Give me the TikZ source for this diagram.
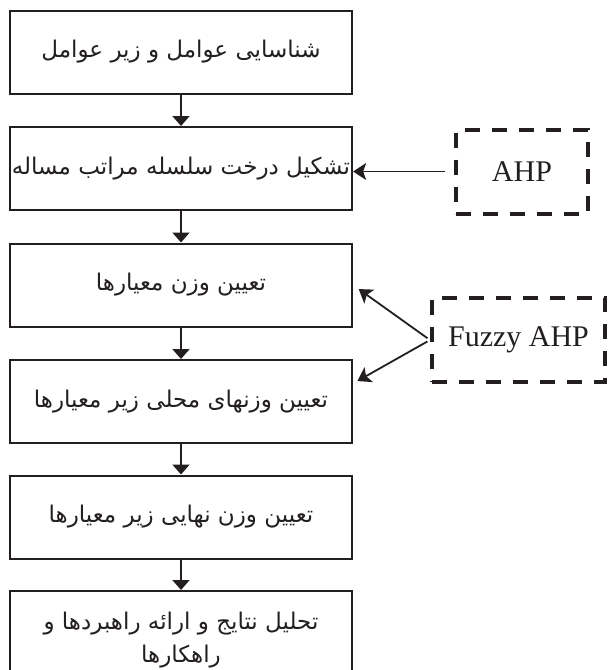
\documentclass[tikz,border=0pt]{standalone}
\usepackage{fontspec}
\setmainfont{Liberation Serif}
\newfontfamily\persianFont[Script=Arabic]{DejaVu Sans}
\TeXXeTstate=1
\usetikzlibrary{arrows.meta, positioning}
\definecolor{inkBlack}{HTML}{231F20}
\newcommand{\fa}[1]{{\persianFont\beginR #1\endR}}
\tikzset{
    % Flow boxes
    stepBox/.style={rectangle, draw=inkBlack, line width=2pt, minimum width=342pt, minimum height=83pt,
        inner sep=2pt, align=center, text=inkBlack, font=\persianFont\fontsize{23}{33}\selectfont},
    % Method boxes
    methodBox/.style={rectangle, draw=inkBlack, line width=4pt, dash pattern=on 15pt off 12pt,
        minimum height=84pt, inner sep=0pt, text=inkBlack, font=\fontsize{30}{36}\selectfont},
    % Arrows
    arrowDown/.style={-{Triangle[width=17pt,length=10pt]}, line width=2pt, draw=inkBlack},
    arrowSide/.style={-{Stealth[width=17pt,length=13pt,inset=3pt]}, line width=1.8pt, draw=inkBlack}
}
\begin{document}
\begin{tikzpicture}[x=1pt, y=-1pt]
    \useasboundingbox (0,0) rectangle (608,670);

    % Steps
    \node[stepBox] (s1) at (181,52)    {\fa{شناسایی عوامل و زیر عوامل}};
    \node[stepBox] (s2) at (181,168.5) {\fa{تشکیل درخت سلسله مراتب مساله}};
    \node[stepBox] (s3) at (181,285)   {\fa{تعیین وزن معیارها}};
    \node[stepBox] (s4) at (181,401.5) {\fa{تعیین وزنهای محلی زیر معیارها}};
    \node[stepBox] (s5) at (181,517)   {\fa{تعیین وزن نهایی زیر معیارها}};
    \node[stepBox, minimum height=99pt] (s6) at (181,640.5) {\fa{تحلیل نتایج و ارائه راهبردها و}\\\fa{راهکارها}};
    \foreach \a/\b in {s1/s2, s2/s3, s3/s4, s4/s5, s5/s6}
        \draw[arrowDown] (\a) -- (\b);

    % Methods
    \node[methodBox, minimum width=132pt] (ahp) at (522,171.5) {AHP};
    \node[methodBox, minimum width=173pt] (fuzzy) at (518.5,340) {Fuzzy AHP};

    \draw[arrowSide, line width=1.4pt, shorten <=9pt] (ahp.west) -- (ahp.west -| s2.east);
    \draw[arrowSide, shorten <=3pt, shorten >=7pt] (fuzzy.west) -- (s3.east);
    \draw[arrowSide, shorten <=3pt, shorten >=5pt] (fuzzy.west) -- ([yshift=18pt]s4.east);
\end{tikzpicture}
\end{document}
